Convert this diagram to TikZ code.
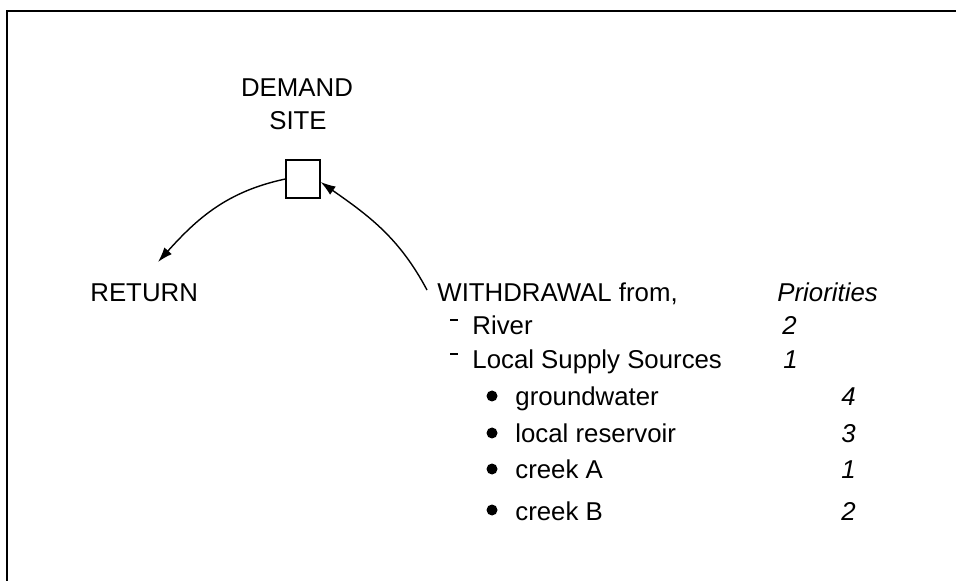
\documentclass[tikz,border=0pt]{standalone}
\usepackage{fontspec}
\setmainfont{Liberation Sans}
\usetikzlibrary{arrows.meta}
\begin{document}
\begin{tikzpicture}[x=0.5pt,y=-0.5pt,
  txt/.style={inner sep=0pt,font=\fontsize{12.9}{15}\selectfont},
  lbl/.style={txt,anchor=base west},
  num/.style={txt,anchor=base east,font=\fontsize{12.9}{15}\selectfont\itshape},
  link/.style={line width=0.7pt,-{Latex[length=7.5pt,width=5pt]}},
  dot/.style={circle,fill=black,inner sep=0pt,minimum size=5.5pt},
  dashmark/.style={line width=1pt}]
\useasboundingbox (0,0) rectangle (956,581);
% frame
\draw[line width=1.4pt] (7,581) -- (7,11) -- (956,11);
% demand site
\node[txt,anchor=base] (dem) at (297,97) {DEMAND};
\node[txt,anchor=base] (site) at (298,130) {SITE};
\node[draw,line width=0.6pt,minimum width=17pt,minimum height=19pt,inner sep=0pt] (ds) at (303,179) {};
% return
\node[lbl] (ret) at (90,302) {RETURN};
\coordinate (rend) at (158,262);
\coordinate (wstart) at (427,290);
\draw[link] (ds.west) to[out=192,in=48] (rend);
\draw[link] (wstart) to[out=118,in=-35] ([yshift=-1.5pt]ds.east);
% withdrawal
\node[lbl] (wd) at (437,302) {WITHDRAWAL from,};
\node[lbl,font=\fontsize{12.9}{15}\selectfont\itshape] (pr) at (777,302) {Priorities};
\node[lbl] (river) at (472,335) {River};
\node[lbl] (lss) at (472,369) {Local Supply Sources};
\draw[dashmark] (450,320) -- (458,320);
\draw[dashmark] (450,354) -- (458,354);
\node[num,anchor=base west] (p1) at (782,335) {2};
\node[num,anchor=base west] (p2) at (783,369) {1};
% sub items
\node[lbl] (gw) at (515,406) {groundwater};
\node[lbl] (lr) at (515,443) {local reservoir};
\node[lbl] (ca) at (515,479) {creek A};
\node[lbl] (cb) at (515,520) {creek B};
\node[dot] (b1) at (492,396) {};
\node[dot] (b2) at (492,433) {};
\node[dot] (b3) at (492,469) {};
\node[dot] (b4) at (492,510) {};
\node[num] (q1) at (856,406) {4};
\node[num] (q2) at (856,443) {3};
\node[num] (q3) at (856,479) {1};
\node[num] (q4) at (856,520) {2};
\end{tikzpicture}
\end{document}
